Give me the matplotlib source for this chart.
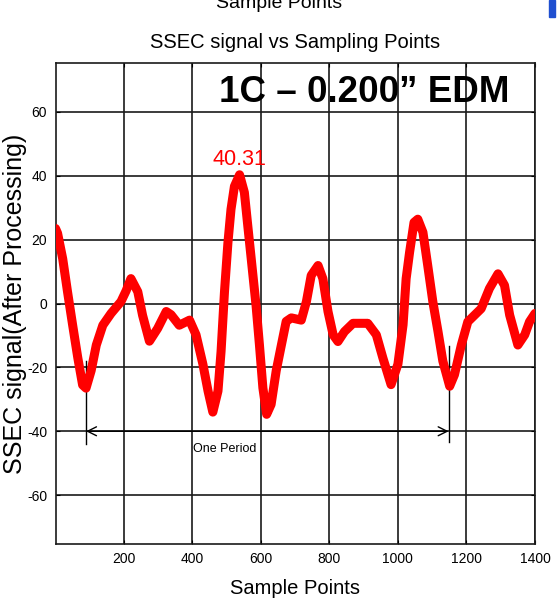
import numpy as np
import matplotlib.pyplot as plt
from matplotlib.patches import Rectangle

#==================================
#          data
#==================================
a_n = [1, 7, 22, 36, 51, 66, 80, 90, 105, 120, 139, 163, 192, 207, 221, 241,
       255, 275, 299, 324, 338, 362, 392, 411, 431, 446, 460, 475, 484, 494,
       504, 513, 523, 538, 552, 562, 572, 586, 596, 606, 617, 630, 645, 660,
       674, 689, 718, 733, 747, 767, 781, 796, 811, 825, 844, 869, 912, 937,
       956, 980, 1000, 1015, 1024, 1034, 1047, 1058, 1073, 1087, 1102, 1117,
       1131, 1151, 1165, 1185, 1204, 1243, 1267, 1292, 1311, 1326, 1350, 1370,
       1384, 1400]
a_s = [23.5, 22, 14, 3.7, -6.8, -17, -25.5, -26.5, -21, -13, -6.8, -3.1, 0.6,
       4, 7.8, 3.7, -3.7, -11.8, -7.8, -2.5, -3.5, -6.8, -5.2, -9.8, -19,
       -27.4, -34, -27.4, -15, 3.7, 19, 29.5, 36.7, 40.31, 34.8, 24.3, 14,
       -0.5, -13, -26.4, -34.7, -31.6, -21, -13, -5.6, -4.5, -5.2, 0.6, 8.8,
       11.9, 7.8, -2.5, -9.8, -11.9, -8.8, -6.2, -6.2, -9.8, -17, -25.4, -19,
       -6.7, 7.8, 16, 25.4, 26.4, 22.3, 11.9, 0.5, -8.8, -18, -25.9, -22.3,
       -13, -5.7, -1.6, 4.7, 9.3, 5.7, -3.6, -13, -9.8, -5.7, -3.1]

f_peak = 40.31
i_peak = 538
period_start = 90
period_end = 1148

x_ticks = [200, 400, 600, 800, 1000, 1200, 1400]
y_ticks = [-60, -40, -20, 0, 20, 40, 60]

#==================================
#          plot
#==================================
plt.rcParams['font.family'] = ['Liberation Sans', 'DejaVu Sans']
plt.rcParams['axes.unicode_minus'] = False

fig = plt.figure(figsize=(5.58, 6.06), dpi=100)
ax = fig.add_axes([0.0995, 0.1023, 0.8593, 0.7937])

ax.plot(a_n, a_s, '-', color='#ff0000', lw=6.5, solid_capstyle='round',
        solid_joinstyle='round', zorder=3)

ax.set_xlim(1, 1400)
ax.set_ylim(-75.3, 75.3)
ax.set_xticks(x_ticks)
ax.set_yticks(y_ticks)
ax.grid(True, color='#1a1a1a', linestyle='-', lw=1.2)
ax.tick_params(direction='in', top=True, right=True, length=3, width=0.8,
               labelsize=10, pad=6)
for s in ax.spines.values():
    s.set_linewidth(1.2)
    s.set_color('#1a1a1a')

ax.set_xlabel('Sample Points', fontsize=14.5, labelpad=9)
ax.set_ylabel('SSEC signal(After Processing)', fontsize=18, labelpad=0)
ax.set_title('SSEC signal vs Sampling Points', fontsize=14.5, pad=11)

# peak value and heading
ax.text(i_peak, 43.5, '%.2f' % f_peak, color='#ff0000', fontsize=15.5,
        ha='center', va='baseline')
ax.text(478, 63, '1C \u2013 0.200\u201d EDM', fontsize=26.5, fontweight='bold',
        ha='left', va='baseline', zorder=2)

# one period marker
ax.plot([period_start, period_start], [-18, -44], 'k-', lw=1)
ax.plot([period_end, period_end], [-13.4, -43.5], 'k-', lw=1)
ax.annotate('', xy=(period_start, -40), xytext=(period_end, -40),
            arrowprops=dict(arrowstyle='<->', color='k', lw=1,
                            mutation_scale=16, shrinkA=0, shrinkB=0))
ax.text(495, -45.6, 'One Period', fontsize=9, ha='center', va='center')

# clipped heading above and edge bar
fig.text(0.5, 1 - 8 / 606, 'Sample Points', fontsize=14, ha='center',
         va='baseline')
fig.patches.append(Rectangle((549 / 558, 1 - 17 / 606), 6 / 558, 17 / 606,
                             transform=fig.transFigure, color='#1f4fd0'))

fig.savefig('out.png', dpi=100)
